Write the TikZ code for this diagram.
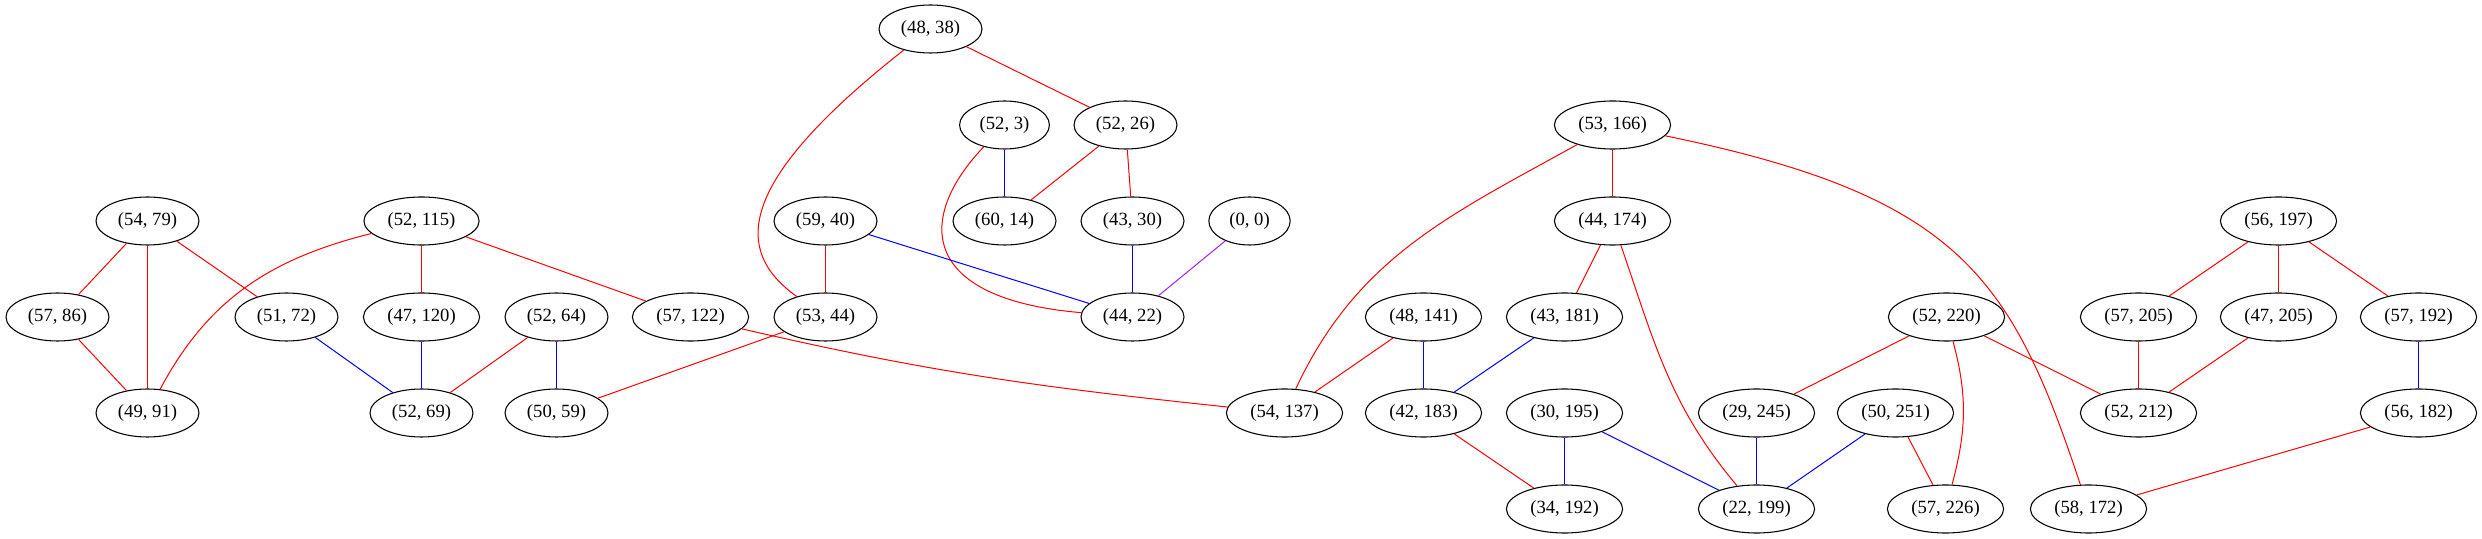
\documentclass[tikz,border=0pt]{standalone}
\usepackage{fontspec}
\setmainfont{Liberation Serif}
\usepackage{tikz}
\usetikzlibrary{shapes.geometric}
\definecolor{gvpurple}{HTML}{A020F0}

\begin{document}
\begin{tikzpicture}[x=.75pt, y=.75pt,
  pair/.style={draw, ellipse, line width=.8pt, inner xsep=5.15pt, inner ysep=2pt,
    minimum height=36pt, minimum width=61pt, font=\fontsize{14pt}{16pt}\selectfont},
  re/.style={draw=red, line width=.75pt},
  bl/.style={draw=blue, line width=.75pt},
  pu/.style={draw=gvpurple, line width=.75pt}]

\useasboundingbox (0,0) rectangle (2482,539);

% rows from top: 510, 414, 318, 222, 126, 30
\node[pair] (p48x38) at (930.5,510) {(48, 38)};

\node[pair] (p52x3) at (1004.5,414) {(52, 3)};
\node[pair] (p52x26) at (1125.5,414) {(52, 26)};
\node[pair] (p53x166) at (1612.5,414) {(53, 166)};

\node[pair] (p54x79) at (147.5,318) {(54, 79)};
\node[pair] (p52x115) at (421.5,318) {(52, 115)};
\node[pair] (p59x40) at (825.5,318) {(59, 40)};
\node[pair] (p60x14) at (1004.5,318) {(60, 14)};
\node[pair] (p43x30) at (1132.5,318) {(43, 30)};
\node[pair] (p0x0) at (1249.5,318) {(0, 0)};
\node[pair] (p44x174) at (1612.5,318) {(44, 174)};
\node[pair] (p56x197) at (2278.5,318) {(56, 197)};

\node[pair] (p57x86) at (57.5,222) {(57, 86)};
\node[pair] (p51x72) at (286.5,222) {(51, 72)};
\node[pair] (p47x120) at (421.5,222) {(47, 120)};
\node[pair] (p52x64) at (556.5,222) {(52, 64)};
\node[pair] (p57x122) at (690.5,222) {(57, 122)};
\node[pair] (p53x44) at (825.5,222) {(53, 44)};
\node[pair] (p44x22) at (1132.5,222) {(44, 22)};
\node[pair] (p48x141) at (1423.5,222) {(48, 141)};
\node[pair] (p43x181) at (1564.5,222) {(43, 181)};
\node[pair] (p52x220) at (1946.5,222) {(52, 220)};
\node[pair] (p57x205) at (2138.5,222) {(57, 205)};
\node[pair] (p47x205) at (2278.5,222) {(47, 205)};
\node[pair] (p57x192) at (2418.5,222) {(57, 192)};

\node[pair] (p49x91) at (147.5,126) {(49, 91)};
\node[pair] (p52x69) at (421.5,126) {(52, 69)};
\node[pair] (p50x59) at (556.5,126) {(50, 59)};
\node[pair] (p54x137) at (1284.5,126) {(54, 137)};
\node[pair] (p42x183) at (1423.5,126) {(42, 183)};
\node[pair] (p30x195) at (1564.5,126) {(30, 195)};
\node[pair] (p29x245) at (1756.5,126) {(29, 245)};
\node[pair] (p50x251) at (1895.5,126) {(50, 251)};
\node[pair] (p52x212) at (2138.5,126) {(52, 212)};
\node[pair] (p56x182) at (2418.5,126) {(56, 182)};

\node[pair] (p34x192) at (1564.5,30) {(34, 192)};
\node[pair] (p22x199) at (1756.5,30) {(22, 199)};
\node[pair] (p57x226) at (1945.5,30) {(57, 226)};
\node[pair] (p58x172) at (2088.5,30) {(58, 172)};

\draw[re] (p54x79) -- (p57x86);
\draw[re] (p54x79) -- (p49x91);
\draw[re] (p54x79) -- (p51x72);
\draw[re] (p57x86) -- (p49x91);
\draw[re] (p52x115) to[out=194, in=62] (p49x91);
\draw[re] (p52x115) -- (p47x120);
\draw[re] (p52x115) -- (p57x122);
\draw[re] (p52x64) -- (p52x69);
\draw[re] (p53x44) -- (p50x59);
\draw[re] (p57x122) to[out=-13, in=174] (p54x137);
\draw[re] (p48x38) .. controls (740,360) and (730,290) .. (p53x44);
\draw[re] (p48x38) -- (p52x26);
\draw[re] (p52x26) -- (p60x14);
\draw[re] (p52x26) -- (p43x30);
\draw[re] (p52x3) .. controls (915,320) and (920,240) .. (p44x22);
\draw[re] (p59x40) -- (p53x44);
\draw[re] (p53x166) -- (p44x174);
\draw[re] (p53x166) to[out=209, in=65] (p54x137);
\draw[re] (p53x166) .. controls (1959,343) and (2011,263) .. (p58x172);
\draw[re] (p44x174) -- (p43x181);
\draw[re] (p44x174) to[out=-71, in=130] (p22x199);
\draw[re] (p48x141) -- (p54x137);
\draw[re] (p42x183) -- (p34x192);
\draw[re] (p52x220) -- (p29x245);
\draw[re] (p52x220) -- (p52x212);
\draw[re] (p52x220) to[out=-75, in=75] (p57x226);
\draw[re] (p50x251) -- (p57x226);
\draw[re] (p56x197) -- (p57x205);
\draw[re] (p56x197) -- (p47x205);
\draw[re] (p56x197) -- (p57x192);
\draw[re] (p57x205) -- (p52x212);
\draw[re] (p47x205) -- (p52x212);
\draw[re] (p56x182) -- (p58x172);

\draw[bl] (p51x72) -- (p52x69);
\draw[bl] (p47x120) -- (p52x69);
\draw[bl] (p52x64) -- (p50x59);
\draw[bl] (p52x3) -- (p60x14);
\draw[bl] (p59x40) -- (p44x22);
\draw[bl] (p43x30) -- (p44x22);
\draw[bl] (p48x141) -- (p42x183);
\draw[bl] (p43x181) -- (p42x183);
\draw[bl] (p30x195) -- (p34x192);
\draw[bl] (p30x195) -- (p22x199);
\draw[bl] (p29x245) -- (p22x199);
\draw[bl] (p50x251) -- (p22x199);
\draw[bl] (p57x192) -- (p56x182);

\draw[pu] (p0x0) -- (p44x22);

\end{tikzpicture}
\end{document}
